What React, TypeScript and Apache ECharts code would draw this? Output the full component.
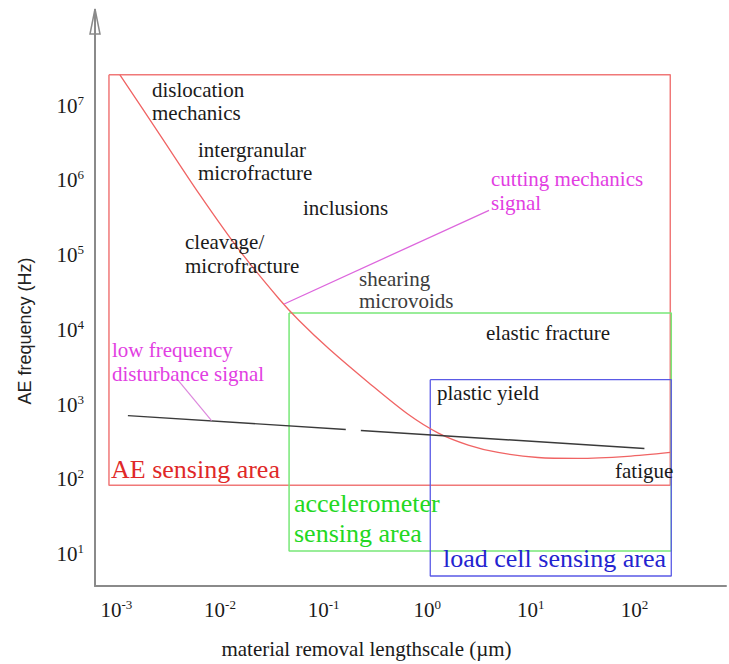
import React, { useEffect, useRef } from 'react';
import * as echarts from 'echarts';

// Tick exponents shown on each axis (labels are 10^n)
const xTickExponents = [-3, -2, -1, 0, 1, 2];
const yTickExponents = [1, 2, 3, 4, 5, 6, 7];

// Sensing areas as closed outlines [lengthscale (µm), frequency (Hz)]
const aeArea = [[8.47e-4, 2.59e7], [222, 2.59e7], [222, 83.2], [8.47e-4, 83.2], [8.47e-4, 2.59e7]];
const accelArea = [[0.0464, 16860], [227, 16860], [227, 11.0], [0.0464, 11.0], [0.0464, 16860]];
const loadCellArea = [[1.07, 2154], [227, 2154], [227, 5.09], [1.07, 5.09], [1.07, 2154]];

// AE mechanism curve
const aeCurve = [
  [0.00108, 2.59e7], [0.00262, 4.1e6], [0.00634, 6.5e5], [0.01535, 1.167e5],
  [0.0372, 25900], [0.0579, 13340], [0.1125, 5580], [0.272, 1965], [0.659, 736],
  [1.281, 416], [2.49, 288], [4.83, 229], [11.7, 196], [28.4, 190.5], [85.7, 203], [222, 229],
];

// Low frequency disturbance level (two segments with a gap)
const disturbanceA = [[0.00129, 713], [0.1637, 464]];
const disturbanceB = [[0.2286, 450], [125, 259]];

// Callout pointers
const cuttingPointer = [[0.0416, 22200], [3.95, 3.98e5]];
const lowFreqPointer = [[0.00382, 2222], [0.00828, 612]];

const SERIF = 'Liberation Serif';
const SANS = 'Liberation Sans';

function expLabel(allowed: number[]) {
  return (v: number) => {
    const e = Math.log10(v);
    const r = Math.round(e);
    if (Math.abs(e - r) > 1e-6 || allowed.indexOf(r) < 0) return '';
    return '{b|10}{s|' + r + '}';
  };
}

const labelRich = {
  b: { fontFamily: SERIF, fontSize: 21, lineHeight: 24, color: '#1a1a1a' },
  s: { fontFamily: SERIF, fontSize: 13, lineHeight: 14, verticalAlign: 'top', color: '#1a1a1a' },
};

function lineSeries(data: number[][], color: string, width: number) {
  return {
    type: 'line',
    data,
    symbol: 'none',
    showSymbol: false,
    silent: true,
    lineStyle: { color, width },
    z: 3,
  };
}

function txt(text: string, x: number, y: number, color: string, size: number, lh: number) {
  return {
    type: 'text',
    x,
    y,
    silent: true,
    z: 10,
    style: {
      text,
      fill: color,
      fontFamily: SERIF,
      fontSize: size,
      lineHeight: lh,
      verticalAlign: 'top',
      align: 'left',
    },
  };
}

export default function App() {
  const ref = useRef<HTMLDivElement>(null);
  useEffect(() => {
    if (!ref.current) return;
    const chart = echarts.init(ref.current, undefined, { renderer: 'svg' });
    chart.setOption({
      animation: false,
      backgroundColor: '#ffffff',
      grid: { left: 95, right: 0, top: 10, bottom: 76 },
      xAxis: {
        type: 'log',
        logBase: 10,
        min: 6.21e-4,
        max: 766,
        axisLine: { lineStyle: { color: '#8a8a8a', width: 2 } },
        axisTick: { show: false },
        splitLine: { show: false },
        axisLabel: { formatter: expLabel(xTickExponents), rich: labelRich, margin: 12 },
        name: 'material removal lengthscale (µm)',
        nameLocation: 'middle',
        nameGap: 52,
        nameTextStyle: { fontFamily: SERIF, fontSize: 21, color: '#1a1a1a', padding: [0, 88, 0, 0] },
      },
      yAxis: {
        type: 'log',
        logBase: 10,
        min: 3.74,
        max: 1.905e8,
        axisLine: { lineStyle: { color: '#8a8a8a', width: 2 } },
        axisTick: { show: false },
        splitLine: { show: false },
        axisLabel: { formatter: expLabel(yTickExponents), rich: labelRich, margin: 11 },
        name: 'AE frequency (Hz)',
        nameLocation: 'middle',
        nameGap: 61,
        nameTextStyle: { fontFamily: SANS, fontSize: 18, color: '#222', padding: [0, 66, 0, 0] },
      },
      series: [
        lineSeries(aeArea, '#f07878', 1.5),
        lineSeries(accelArea, '#78e878', 1.5),
        lineSeries(loadCellArea, '#5a5ae6', 1.3),
        { ...lineSeries(aeCurve, '#f06464', 1.3), smooth: 0.3 },
        lineSeries(disturbanceA, '#3a3a3a', 1.4),
        lineSeries(disturbanceB, '#3a3a3a', 1.4),
        lineSeries(cuttingPointer, '#dd66dd', 1.3),
        lineSeries(lowFreqPointer, '#dd88dd', 1.2),
      ],
      graphic: [
        {
          type: 'polygon',
          silent: true,
          shape: { points: [[95, 9], [90, 34], [100, 34]] },
          style: { fill: 'none', stroke: '#8a8a8a', lineWidth: 1.5 },
        },
        txt('dislocation\nmechanics', 152, 78, '#1a1a1a', 21, 23),
        txt('intergranular\nmicrofracture', 198, 138, '#1a1a1a', 21, 23),
        txt('inclusions', 303, 196, '#1a1a1a', 21, 23),
        txt('cleavage/\nmicrofracture', 185, 230, '#1a1a1a', 21, 24),
        txt('shearing\nmicrovoids', 359, 268, '#3c3c3c', 21, 22),
        txt('cutting mechanics\nsignal', 491, 167, '#e23ee2', 21, 24),
        txt('elastic fracture', 486, 321, '#1a1a1a', 21, 23),
        txt('low frequency\ndisturbance signal', 112, 338, '#e23ee2', 21, 24),
        txt('plastic yield', 437, 381, '#1a1a1a', 21, 23),
        txt('fatigue', 615, 459, '#1a1a1a', 21, 23),
        txt('AE sensing area', 111, 454, '#e02828', 26, 30),
        txt('accelerometer\nsensing area', 294, 488, '#22d822', 26, 30),
        txt('load cell sensing area', 443, 543, '#2424d0', 26, 30),
      ],
    });
    return () => chart.dispose();
  }, []);
  return (
    <div
      ref={ref}
      style={{ position: 'fixed', left: 0, top: 0, width: 729, height: 664, background: '#fff' }}
    />
  );
}
